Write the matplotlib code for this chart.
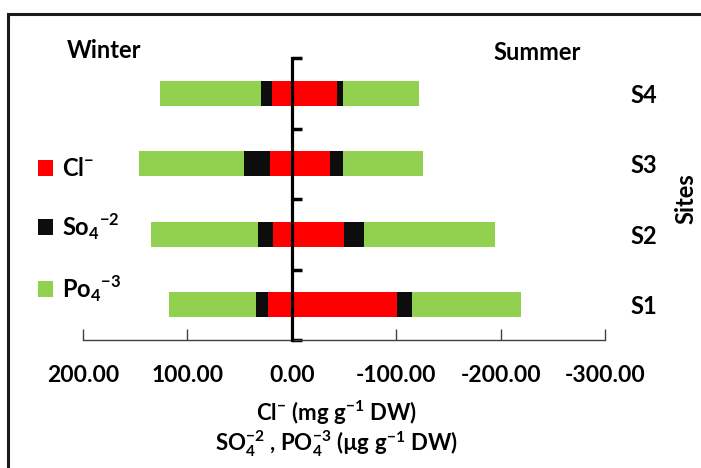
import matplotlib
matplotlib.use("Agg")
import matplotlib.pyplot as plt
from matplotlib.patches import Rectangle
import numpy as np

plt.rcParams['font.family'] = ['Lato', 'DejaVu Sans']
plt.rcParams['font.weight'] = 'bold'
plt.rcParams['mathtext.fontset'] = 'custom'
plt.rcParams['mathtext.rm'] = 'Lato:bold'
plt.rcParams['mathtext.bf'] = 'Lato:bold'

# data (winter on the left, summer on the right)
sites = ['S1', 'S2', 'S3', 'S4']
winter_cl = [23.2, 18.0, 20.6, 18.7]
winter_so4 = [10.7, 14.2, 24.9, 10.5]
winter_po4 = [83.8, 102.7, 100.5, 96.7]
summer_cl = [100.5, 50.4, 36.4, 43.2]
summer_so4 = [14.5, 18.9, 12.8, 5.6]
summer_po4 = [104.8, 125.4, 76.9, 72.7]
xticks = [200, 100, 0, -100, -200, -300]

red = '#FF0000'
black = '#0D0D0D'
green = '#92D050'

W, H = 701, 468
fig = plt.figure(figsize=(W / 100, H / 100), dpi=100)
ax = fig.add_axes([83 / W, 1 - 340 / H, 522 / W, 282 / H])

y = np.arange(1, len(sites) + 1)
h = 0.36

wc = np.array(winter_cl)
ws = np.array(winter_so4)
wp = np.array(winter_po4)
sc = np.array(summer_cl)
ss = np.array(summer_so4)
sp = np.array(summer_po4)

b_cl = ax.barh(y, wc, h, color=red, zorder=2)
b_so = ax.barh(y, ws, h, left=wc, color=black, zorder=2)
b_po = ax.barh(y, wp, h, left=wc + ws, color=green, zorder=2)
ax.barh(y, -sc, h, color=red, zorder=2)
ax.barh(y, -ss, h, left=-sc, color=black, zorder=2)
ax.barh(y, -sp, h, left=-(sc + ss), color=green, zorder=2)

ax.set_xlim(200, -300)
ax.set_ylim(0.5, len(sites) + 0.5)
ax.set_xticks(xticks)
ax.set_xticklabels([f'{v:.2f}' for v in xticks], fontsize=16.5, fontweight='bold')
ax.tick_params(axis='x', direction='in', length=8, width=1, color='#404040', pad=18)

ax.set_yticks(np.arange(0.5, len(sites) + 1, 1))
ax.set_yticklabels([])
ax.tick_params(axis='y', direction='in', length=7, width=2.5, color='black')

ax.spines['top'].set_visible(False)
ax.spines['right'].set_visible(False)
ax.spines['left'].set_position(('data', 0))
ax.spines['left'].set_linewidth(2.3)
ax.spines['left'].set_zorder(3)
ax.spines['bottom'].set_linewidth(1)
ax.spines['bottom'].set_color('#404040')

# site labels on the right
ax2 = ax.twinx()
ax2.set_ylim(ax.get_ylim())
ax2.set_yticks(y)
ax2.set_yticklabels(sites, fontsize=17, fontweight='bold')
ax2.tick_params(axis='y', length=0, pad=18)
for s in ax2.spines.values():
    s.set_visible(False)
ax2.set_ylabel('Sites', fontsize=17, fontweight='bold', labelpad=13)

fig.text(104 / W, 1 - 50 / H, 'Winter', fontsize=17, fontweight='bold', ha='center', va='center')
fig.text(537 / W, 1 - 53 / H, 'Summer', fontsize=17, fontweight='bold', ha='center', va='center')

fig.text(336 / W, 1 - 413 / H, r'Cl$^{\mathbf{-}}$ (mg g$^{\mathbf{-1}}$ DW)',
         fontsize=16, fontweight='bold', ha='center', va='center')
fig.text(336 / W, 1 - 444 / H,
         r'SO$_{\mathbf{4}}^{\mathbf{-2}}$ , PO$_{\mathbf{4}}^{\mathbf{-3}}$ (µg g$^{\mathbf{-1}}$ DW)',
         fontsize=16, fontweight='bold', ha='center', va='center')

fig.legend([b_cl, b_so, b_po],
           [r'Cl$^{\mathbf{-}}$', r'So$_{\mathbf{4}}$$^{\mathbf{-2}}$', r'Po$_{\mathbf{4}}$$^{\mathbf{-3}}$'],
           loc='upper left', bbox_to_anchor=(38 / W, 1 - 157 / H), frameon=False,
           fontsize=17, handlelength=0.65, handleheight=0.65, handletextpad=0.35,
           labelspacing=1.32, borderpad=0, borderaxespad=0)

# outer frame (top and left edges visible)
fig.add_artist(Rectangle((8 / W, -0.5), 2, 1.5 - 14 / H, transform=fig.transFigure,
                         fill=False, edgecolor='#1a1a1a', linewidth=2.2))

fig.savefig('out.png', dpi=100)
